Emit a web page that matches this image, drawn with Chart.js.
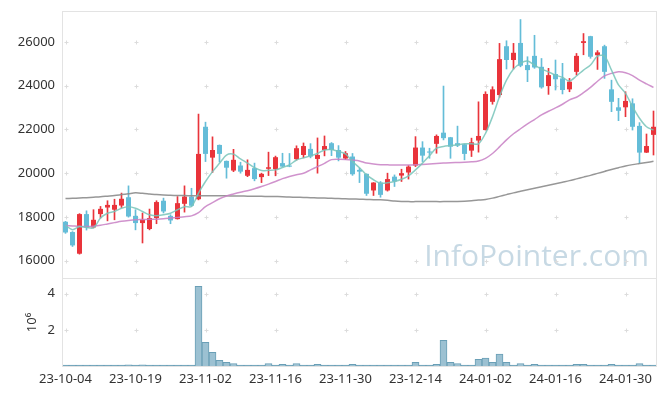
<!DOCTYPE html>
<html lang="en">
<head>
<meta charset="UTF-8" />
<title>Price chart</title>
<script src="https://cdn.jsdelivr.net/npm/chart.js@4"></script>
<style>
  html, body { margin: 0; padding: 0; background: #fff; }
</style>
</head>
<body>
<canvas id="chart" width="665" height="396"></canvas>
<script>
const dates = [
  "23-10-04","23-10-05","23-10-06","23-10-10","23-10-11","23-10-12","23-10-13","23-10-16","23-10-17","23-10-18",
  "23-10-19","23-10-20","23-10-23","23-10-24","23-10-25","23-10-26","23-10-27","23-10-30","23-10-31","23-11-01",
  "23-11-02","23-11-03","23-11-06","23-11-07","23-11-08","23-11-09","23-11-10","23-11-13","23-11-14","23-11-15",
  "23-11-16","23-11-17","23-11-20","23-11-21","23-11-22","23-11-23","23-11-24","23-11-27","23-11-28","23-11-29",
  "23-11-30","23-12-01","23-12-04","23-12-05","23-12-06","23-12-07","23-12-08","23-12-11","23-12-12","23-12-13",
  "23-12-14","23-12-15","23-12-18","23-12-19","23-12-20","23-12-21","23-12-22","23-12-26","23-12-27","23-12-28",
  "24-01-02","24-01-03","24-01-04","24-01-05","24-01-08","24-01-09","24-01-10","24-01-11","24-01-12","24-01-15",
  "24-01-16","24-01-17","24-01-18","24-01-19","24-01-22","24-01-23","24-01-24","24-01-25","24-01-26","24-01-29",
  "24-01-30","24-01-31","24-02-01","24-02-02","24-02-05"
];

const open = [17780,17310,16320,18130,17520,18130,18430,18330,18520,18900,
  18050,17720,17450,17950,18740,18050,17900,18600,18930,18810,
  22120,20710,21290,20560,20120,20350,19880,20230,19820,20200,
  20180,20460,20320,20640,20830,21110,20650,21060,21370,21060,
  20670,20760,20150,19970,19210,19570,19210,19840,19890,20030,
  20350,21170,20990,21340,21850,21640,21370,21320,21030,21490,
  21970,23260,23570,25800,25170,25950,24940,25360,24860,23980,
  24530,24330,23830,24630,25950,26260,25390,25800,23830,23010,
  23010,23190,22160,20940,21750];
const high = [17800,17330,18150,18280,18330,18480,18740,18810,19090,19420,
  18330,18180,18360,18740,18860,18100,18930,19420,19310,22700,
  22330,21660,21290,20560,21090,20500,20610,20460,20000,20960,
  20780,20910,20900,21250,21380,21350,21610,21700,21400,21260,
  20990,20900,20230,19970,19570,19620,20000,19920,20180,20350,
  21670,21440,21140,21750,23980,21640,22150,21320,21600,23260,
  23720,23950,25930,26050,25930,27020,25320,26300,25240,24790,
  25170,25020,24330,25470,26380,26260,25600,25850,24250,23420,
  23720,23400,22310,21790,22840];
const low = [17250,16650,16300,17400,17500,17950,17820,17870,18430,17990,
  17410,16810,17410,17690,18180,17690,17900,18220,18480,18780,
  20530,20030,20510,19770,20070,20000,19840,19650,19570,19890,
  19880,20300,20290,20600,20700,20700,20000,20790,20800,20560,
  20620,19900,19570,18980,18980,18900,19180,19390,19620,19730,
  20300,20530,20680,20910,21520,20680,21210,20610,20760,20960,
  21970,23150,23470,24760,24760,24860,24180,24790,23880,23600,
  23800,23620,23720,24480,25410,25250,24740,24330,22810,22400,
  22580,21970,20450,20940,20830];
const close = [17290,16700,18130,17520,17870,18370,18550,18550,18830,18020,
  17720,17870,17950,18680,18250,17840,18630,18930,18510,20880,
  20880,21060,20880,20250,20610,20070,20150,19730,19970,20270,
  20730,20300,20300,21140,21240,20760,20830,21240,21060,20710,
  20910,19950,20070,19060,19570,19010,19730,19620,20000,20300,
  21170,20800,20940,21700,21600,21210,21260,20880,21410,21700,
  23620,23830,25210,25170,25500,24910,24710,24830,23920,24480,
  24290,23800,24180,25360,26030,25320,25520,24630,23260,22850,
  23300,22120,20940,21240,22120];

const ma5 = [17610,17420,17560,17520,17500,17950,18170,18250,18400,18470,
  18400,18250,18100,18050,18100,18170,18330,18470,18480,19090,
  19620,20070,20450,20830,20870,20650,20460,20250,20120,20130,
  20150,20260,20380,20600,20700,20790,20900,21060,21080,20990,
  20880,20530,20250,19920,19700,19540,19560,19620,19720,19880,
  20150,20460,20800,21140,21220,21260,21300,21340,21340,21340,
  21820,22580,23490,24250,24760,25020,25120,24940,24760,24630,
  24480,24380,24210,24440,24710,24940,25350,25350,24710,24030,
  23650,23040,22510,22120,21970];
const ma20 = [17610,17590,17570,17560,17580,17620,17680,17740,17800,17840,
  17870,17880,17890,17900,17920,17950,17980,18010,18050,18200,
  18470,18650,18830,18960,19050,19130,19200,19290,19390,19500,
  19620,19750,19850,19930,20000,20150,20300,20450,20620,20640,
  20630,20600,20560,20460,20420,20390,20380,20370,20370,20370,
  20380,20400,20420,20440,20460,20480,20490,20500,20520,20560,
  20680,20900,21200,21520,21800,22030,22250,22450,22660,22830,
  22980,23150,23350,23470,23680,23920,24200,24450,24560,24630,
  24590,24460,24250,24080,23920];
const ma120 = [18840,18850,18865,18880,18900,18920,18950,18980,19020,19060,
  19100,19080,19050,19020,19000,18990,18980,18975,18970,18970,
  18970,18970,18970,18965,18960,18955,18950,18945,18940,18935,
  18930,18925,18910,18900,18890,18880,18870,18860,18850,18840,
  18830,18820,18810,18800,18790,18780,18760,18730,18710,18700,
  18700,18700,18700,18700,18700,18705,18710,18720,18740,18770,
  18800,18860,18940,19020,19100,19170,19240,19310,19380,19450,
  19520,19590,19660,19740,19820,19900,19990,20080,20170,20250,
  20330,20390,20440,20490,20540];

// volume in millions of shares
const volume = [0.03,0.05,0.05,0.05,0.05,0.05,0.05,0.05,0.05,0.12,
  0.05,0.12,0.01,0.05,0.01,0.01,0.1,0.05,0.01,4.4,
  1.35,0.8,0.37,0.26,0.19,0.04,0.1,0.1,0.04,0.19,
  0.1,0.14,0.04,0.19,0.1,0.04,0.14,0.1,0.04,0.04,
  0.02,0.14,0.04,0.1,0.04,0.04,0.04,0.01,0.01,0.04,
  0.26,0.04,0.04,0.14,1.46,0.26,0.19,0.04,0.1,0.42,
  0.48,0.26,0.7,0.26,0.1,0.19,0.1,0.14,0.1,0.1,
  0.1,0.1,0.04,0.14,0.14,0.1,0.04,0.1,0.14,0.1,
  0.1,0.1,0.19,0.1,0.1];

const priceTicks = [16000, 18000, 20000, 22000, 24000, 26000];
const volumeTicks = [2, 4];

const UP = "#e9343b";
const DOWN = "#64bdd8";
const candleColors = close.map((c, i) => (c >= open[i] ? UP : DOWN));
const bodies = open.map((o, i) => [o, close[i]]);
const wicks = low.map((l, i) => [l, high[i]]);

const tickFont = { family: "'Noto Sans', sans-serif", size: 13 };

// keep the plot box where the reference has it
const fitY = s => { s.width = 62; s.paddingTop = 0; s.paddingBottom = 0; };

const decor = {
  id: "decor",
  beforeDatasetsDraw(chart) {
    const { ctx, chartArea } = chart;
    const xs = chart.scales.x, yp = chart.scales.y, yv = chart.scales.yv;
    ctx.save();
    // watermark
    ctx.font = "30px 'Open Sans', sans-serif";
    ctx.fillStyle = "#c7d9e4";
    ctx.textAlign = "right";
    ctx.textBaseline = "alphabetic";
    ctx.fillText("InfoPointer.com", chartArea.right - 8, yp.bottom - 12);
    // grid crosses
    ctx.strokeStyle = "#dcdcdc";
    ctx.lineWidth = 1;
    const cross = (x, y) => {
      ctx.beginPath();
      ctx.moveTo(x - 2, y); ctx.lineTo(x + 2, y);
      ctx.moveTo(x, y - 2); ctx.lineTo(x, y + 2);
      ctx.stroke();
    };
    for (let i = 0; i < dates.length; i += 10) {
      const x = Math.round(xs.getPixelForValue(i)) + 0.5;
      priceTicks.forEach(v => cross(x, Math.round(yp.getPixelForValue(v)) + 0.5));
      volumeTicks.forEach(v => cross(x, Math.round(yv.getPixelForValue(v)) + 0.5));
    }
    ctx.restore();
  },
  afterDatasetsDraw(chart) {
    const { ctx, chartArea } = chart;
    const yv = chart.scales.yv;
    ctx.save();
    ctx.strokeStyle = "#e3e3e3";
    ctx.lineWidth = 1;
    ctx.strokeRect(Math.round(chartArea.left) + 0.5, Math.round(chartArea.top) + 0.5,
      Math.round(chartArea.right - chartArea.left) - 1, Math.round(chartArea.bottom - chartArea.top) - 1);
    ctx.beginPath();
    ctx.moveTo(chartArea.left, Math.round(yv.top) + 0.5);
    ctx.lineTo(chartArea.right, Math.round(yv.top) + 0.5);
    ctx.stroke();
    ctx.restore();
  }
};

new Chart(document.getElementById("chart"), {
  type: "bar",
  data: {
    labels: dates,
    datasets: [
      { type: "line", data: ma5, yAxisID: "y", borderColor: "rgba(120,196,186,0.85)", borderWidth: 1.5,
        pointRadius: 0, tension: 0.3, order: 0 },
      { type: "line", data: ma20, yAxisID: "y", borderColor: "rgba(200,128,196,0.85)", borderWidth: 1.5,
        pointRadius: 0, tension: 0.3, order: 0 },
      { type: "line", data: ma120, yAxisID: "y", borderColor: "rgba(140,140,140,0.9)", borderWidth: 1.5,
        pointRadius: 0, tension: 0.3, order: 0 },
      { data: wicks, yAxisID: "y", backgroundColor: candleColors, barThickness: 1, grouped: false, order: 1 },
      { data: bodies, yAxisID: "y", backgroundColor: candleColors, barPercentage: 0.72, categoryPercentage: 1,
        minBarLength: 1, grouped: false, order: 1 },
      { data: volume, yAxisID: "yv", backgroundColor: "#9cc1d2", borderColor: "#6a9fb6", borderWidth: 1,
        barPercentage: 1, categoryPercentage: 1, minBarLength: 2, grouped: false, order: 2 }
    ]
  },
  options: {
    responsive: false,
    animation: false,
    layout: { padding: { top: 11, right: 8, bottom: 8, left: 0 } },
    plugins: { legend: { display: false }, tooltip: { enabled: false } },
    scales: {
      x: {
        offset: true,
        grid: { display: false, drawTicks: false },
        border: { display: false },
        afterFit: s => { s.height = 21; s.paddingLeft = 0; s.paddingRight = 0; },
        ticks: {
          autoSkip: false, maxRotation: 0, padding: 4, color: "#333", font: tickFont,
          callback: (v, i) => (i % 10 === 0 ? dates[i] : "")
        }
      },
      yv: {
        position: "left", stack: "panel", stackWeight: 1,
        min: 0, max: 4.85,
        afterBuildTicks: s => { s.ticks = volumeTicks.map(v => ({ value: v })); },
        afterFit: fitY,
        grid: { display: false, drawTicks: false },
        border: { display: false },
        ticks: { padding: 7, color: "#333", font: tickFont, callback: v => String(v) },
        title: { display: true, text: "10⁶", color: "#333", font: tickFont, padding: { top: 24, bottom: 0 } }
      },
      y: {
        position: "left", stack: "panel", stackWeight: 3,
        min: 15210, max: 27410,
        afterBuildTicks: s => { s.ticks = priceTicks.map(v => ({ value: v })); },
        afterFit: fitY,
        grid: { display: false, drawTicks: false },
        border: { display: false },
        ticks: { padding: 7, color: "#333", font: tickFont, callback: v => String(v) }
      }
    }
  },
  plugins: [decor]
});
</script>
</body>
</html>
